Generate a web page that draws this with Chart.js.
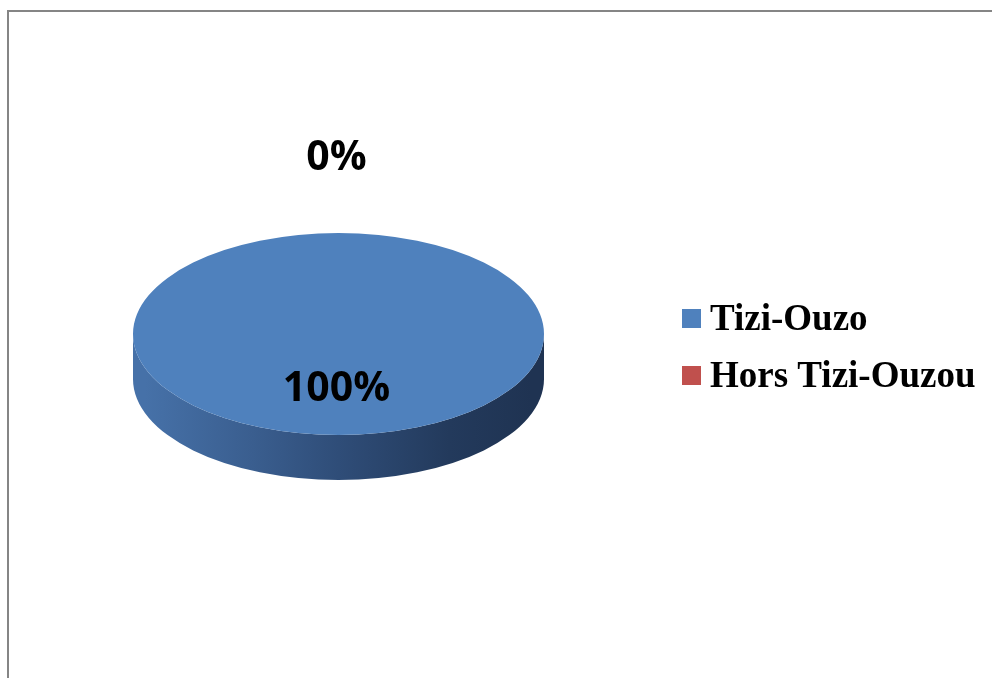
<!DOCTYPE html>
<html lang="fr">
<head>
<meta charset="UTF-8" />
<title>Tizi-Ouzou</title>
<style>
  body { margin: 0; background: #fff; }
  .frame {
    position: absolute;
    left: 7px; top: 10px; right: 0; bottom: 0;
    border-left: 2px solid #858585;
    border-top: 2px solid #858585;
  }
  #wrap { position: absolute; left: 0; top: 0; width: 992px; height: 678px; }
</style>
</head>
<body>
<div class="frame"></div>
<div id="wrap"><canvas id="pie" width="992" height="678"></canvas></div>

<script src="https://cdn.jsdelivr.net/npm/chart.js@4.4.0/dist/chart.umd.min.js"></script>
<script>
  const categories = ['Tizi-Ouzo', 'Hors Tizi-Ouzou'];
  const values = [100, 0];
  const colors = ['#4F81BD', '#C0504D'];
  // side shading, light (left) to dark (right), one set per slice
  const sideShades = [
    ['#4671a8', '#3a5e8f', '#2f4d78', '#233a5c', '#1f3352'],
    ['#a8463f', '#8f3b35', '#78312c', '#5c2622', '#52211e']
  ];

  const TILT = 101 / 205.5;   // vertical squash of the top face
  const DEPTH = 45;           // thickness of the pie, px

  // fake 3D: squash the pie and draw its side wall below it
  const pie3d = {
    id: 'pie3d',
    beforeDatasetsDraw(chart) {
      const ctx = chart.ctx;
      const meta = chart.getDatasetMeta(0);
      meta.data.forEach((arc, i) => {
        const {x, y, outerRadius: r, startAngle, endAngle} = arc.getProps(['x', 'y', 'outerRadius', 'startAngle', 'endAngle'], true);
        if (endAngle - startAngle <= 0) return;
        const ry = r * TILT;
        // front half only (0..PI), intersect with slice span
        const TAU = Math.PI * 2;
        for (let k = -1; k <= 1; k++) {
          const a0 = Math.max(startAngle, k * TAU);
          const a1 = Math.min(endAngle, k * TAU + Math.PI);
          if (a1 <= a0) continue;
          const s = a0 - k * TAU, e = a1 - k * TAU;
          const g = ctx.createLinearGradient(x - r, 0, x + r, 0);
          const sh = sideShades[i];
          g.addColorStop(0.03, sh[0]);
          g.addColorStop(0.29, sh[1]);
          g.addColorStop(0.5, sh[2]);
          g.addColorStop(0.77, sh[3]);
          g.addColorStop(0.97, sh[4]);
          ctx.save();
          ctx.beginPath();
          ctx.ellipse(x, y, r, ry, 0, s, e, false);
          ctx.ellipse(x, y + DEPTH, r, ry, 0, e, s, true);
          ctx.closePath();
          ctx.fillStyle = g;
          ctx.fill();
          ctx.restore();
        }
      });
      const arc0 = meta.data[0];
      ctx.save();
      ctx.translate(0, arc0.y);
      ctx.scale(1, TILT);
      ctx.translate(0, -arc0.y);
    },
    afterDatasetsDraw(chart) {
      chart.ctx.restore();
    },
    afterDraw(chart) {
      const ctx = chart.ctx;
      const meta = chart.getDatasetMeta(0);
      const total = values.reduce((a, b) => a + b, 0);
      ctx.save();
      ctx.fillStyle = '#000';
      ctx.textAlign = 'center';
      ctx.textBaseline = 'middle';
      ctx.font = 'bold 41px "Open Sans", sans-serif';
      meta.data.forEach((arc, i) => {
        const {x, y, outerRadius: r, startAngle, endAngle} = arc.getProps(['x', 'y', 'outerRadius', 'startAngle', 'endAngle'], true);
        const mid = (startAngle + endAngle) / 2;
        const f = values[i] === 0 ? 1.74 : 0.55;
        const lx = x + Math.cos(mid) * r * f - 2;
        const ly = y + Math.sin(mid) * r * TILT * f;
        ctx.fillText(Math.round(values[i] / total * 100) + '%', lx, ly);
      });
      // legend
      ctx.textAlign = 'left';
      ctx.textBaseline = 'alphabetic';
      ctx.font = 'bold 37px "Liberation Serif", "Times New Roman", serif';
      categories.forEach((c, i) => {
        const top = 309 + i * 57;
        ctx.fillStyle = colors[i];
        ctx.fillRect(682, top, 19, 19);
        ctx.fillStyle = '#000';
        ctx.fillText(c, 710, top + 21);
      });
      ctx.restore();
    }
  };

  new Chart(document.getElementById('pie'), {
    type: 'pie',
    data: {
      labels: categories,
      datasets: [{
        data: values,
        backgroundColor: colors,
        borderWidth: 0
      }]
    },
    options: {
      responsive: false,
      animation: false,
      layout: { padding: { left: 133, right: 448, top: 128.5, bottom: 138.5 } },
      plugins: {
        legend: { display: false },
        tooltip: { enabled: false }
      }
    },
    plugins: [pie3d]
  });
</script>
</body>
</html>
